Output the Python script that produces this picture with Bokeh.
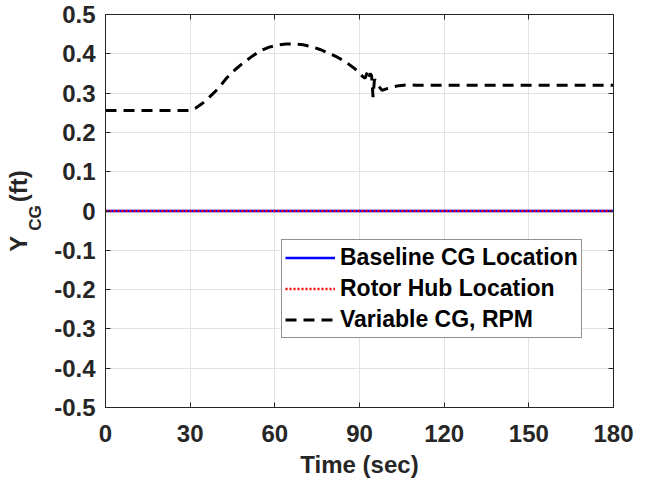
from bokeh.plotting import figure
from bokeh.models import FixedTicker, LinearAxis, Legend, LegendItem, Range1d
from bokeh.embed import file_html
from bokeh.resources import INLINE

# ---- data ----
t_base = [0, 180]
y_base = [0, 0]
t_hub = [0, 180]
y_hub = [0, 0]
t_var = [0, 30.5, 32, 34, 36, 38, 40, 43, 46, 49, 52, 55, 58, 61, 64, 67, 70, 73, 76, 79,
         82, 85, 88, 90, 91, 92, 92.7, 93.3, 93.8, 94.3, 94.8, 95.3, 96, 97, 98, 100, 102,
         104, 107, 110, 115, 120, 180]
y_var = [0.256, 0.256, 0.262, 0.272, 0.284, 0.298, 0.312, 0.339, 0.360, 0.378, 0.394, 0.408,
         0.417, 0.422, 0.425, 0.425, 0.423, 0.418, 0.411, 0.402, 0.392, 0.380, 0.364, 0.352,
         0.343, 0.338, 0.352, 0.338, 0.350, 0.344, 0.290, 0.335, 0.328, 0.316, 0.307, 0.312,
         0.316, 0.319, 0.321, 0.320, 0.320, 0.320, 0.320]
x_ticks = [0, 30, 60, 90, 120, 150, 180]
y_ticks = [-0.5, -0.4, -0.3, -0.2, -0.1, 0, 0.1, 0.2, 0.3, 0.4, 0.5]
y_tick_labels = ["-0.5", "-0.4", "-0.3", "-0.2", "-0.1", "0", "0.1", "0.2", "0.3", "0.4", "0.5"]
legend_labels = ["Baseline CG Location", "Rotor Hub Location", "Variable CG, RPM"]
x_label = "Time (sec)"
y_label_main, y_label_sub, y_label_unit = "Y", "CG", "(ft)"

FONT = "Liberation Sans"
TXT = "#262626"
NB = "\u00a0"

p = figure(width=648, height=487, output_backend="svg", toolbar_location=None,
           x_range=Range1d(0, 180), y_range=Range1d(-0.5, 0.5),
           min_border_left=105, min_border_right=35, min_border_top=14,
           min_border_bottom=80)
p.background_fill_color = "white"
p.border_fill_color = "white"
p.outline_line_color = TXT
p.outline_line_width = 1

for ax in [p.xaxis[0], p.yaxis[0]]:
    ax.major_label_text_font = FONT
    ax.major_label_text_font_size = "24px"
    ax.major_label_text_font_style = "bold"
    ax.major_label_text_color = TXT
    ax.axis_line_color = TXT
    ax.major_tick_line_color = TXT
    ax.major_tick_in = 5
    ax.major_tick_out = 0
    ax.minor_tick_line_color = None
    ax.minor_tick_out = 0

p.xaxis[0].ticker = FixedTicker(ticks=x_ticks)
p.yaxis[0].ticker = FixedTicker(ticks=y_ticks)
p.yaxis[0].major_label_overrides = {v: s for v, s in zip(y_ticks, y_tick_labels)}
p.xaxis[0].axis_label = x_label
p.xaxis[0].axis_label_text_font = FONT
p.xaxis[0].axis_label_text_font_size = "24px"
p.xaxis[0].axis_label_text_font_style = "bold"
p.xaxis[0].axis_label_text_color = TXT
p.xaxis[0].major_label_standoff = 17
p.xaxis[0].axis_label_standoff = 6
p.yaxis[0].major_label_standoff = 10


def mirror_axis(ticks):
    return LinearAxis(ticker=FixedTicker(ticks=ticks),
                      major_label_overrides={t: "" for t in ticks},
                      axis_line_color=TXT, major_tick_line_color=TXT, major_tick_in=5,
                      major_tick_out=0, minor_tick_line_color=None, minor_tick_out=0)


p.add_layout(mirror_axis(x_ticks), "above")
p.add_layout(mirror_axis(y_ticks), "right")


def title_axis(text, size, standoff):
    return LinearAxis(ticker=FixedTicker(ticks=[]), axis_line_color=None,
                      major_tick_line_color=None, minor_tick_line_color=None,
                      major_tick_out=0, minor_tick_out=0, major_tick_in=0, minor_tick_in=0,
                      axis_label=text, axis_label_text_font=FONT,
                      axis_label_text_font_size=size, axis_label_text_font_style="bold",
                      axis_label_text_color=TXT, axis_label_standoff=standoff)


# y-axis title: Y with subscript CG, then (ft); the subscript sits nearer the axis
p.add_layout(title_axis(y_label_sub + NB * 3, "17px", 7), "left")
p.add_layout(title_axis(y_label_main + NB * 5 + y_label_unit, "24px", -9), "left")

p.xgrid.ticker = FixedTicker(ticks=x_ticks)
p.ygrid.ticker = FixedTicker(ticks=y_ticks)
p.xgrid.grid_line_color = "#e3e3e3"
p.ygrid.grid_line_color = "#e3e3e3"

r1 = p.line(t_base, y_base, line_color="#0000ff", line_width=2.5)
r2 = p.line(t_hub, y_hub, line_color="#ff0000", line_width=2.5, line_dash="2 2")
r3 = p.line(t_var, y_var, line_color="black", line_width=3, line_dash="11 7")

legend = Legend(items=[LegendItem(label=legend_labels[0], renderers=[r1]),
                       LegendItem(label=legend_labels[1], renderers=[r2]),
                       LegendItem(label=legend_labels[2], renderers=[r3])],
                location=(176, 69), orientation="vertical")
legend.label_text_font = FONT
legend.label_text_font_size = "23px"
legend.label_text_font_style = "bold"
legend.label_text_color = "black"
legend.glyph_width = 50
legend.glyph_height = 29
legend.label_height = 29
legend.label_standoff = 5
legend.spacing = 2
legend.padding = 3
legend.margin = 0
legend.border_line_color = TXT
legend.border_line_width = 1
legend.background_fill_color = "white"
legend.background_fill_alpha = 1
p.add_layout(legend, "center")

open("out.html", "w").write(file_html(p, INLINE))
